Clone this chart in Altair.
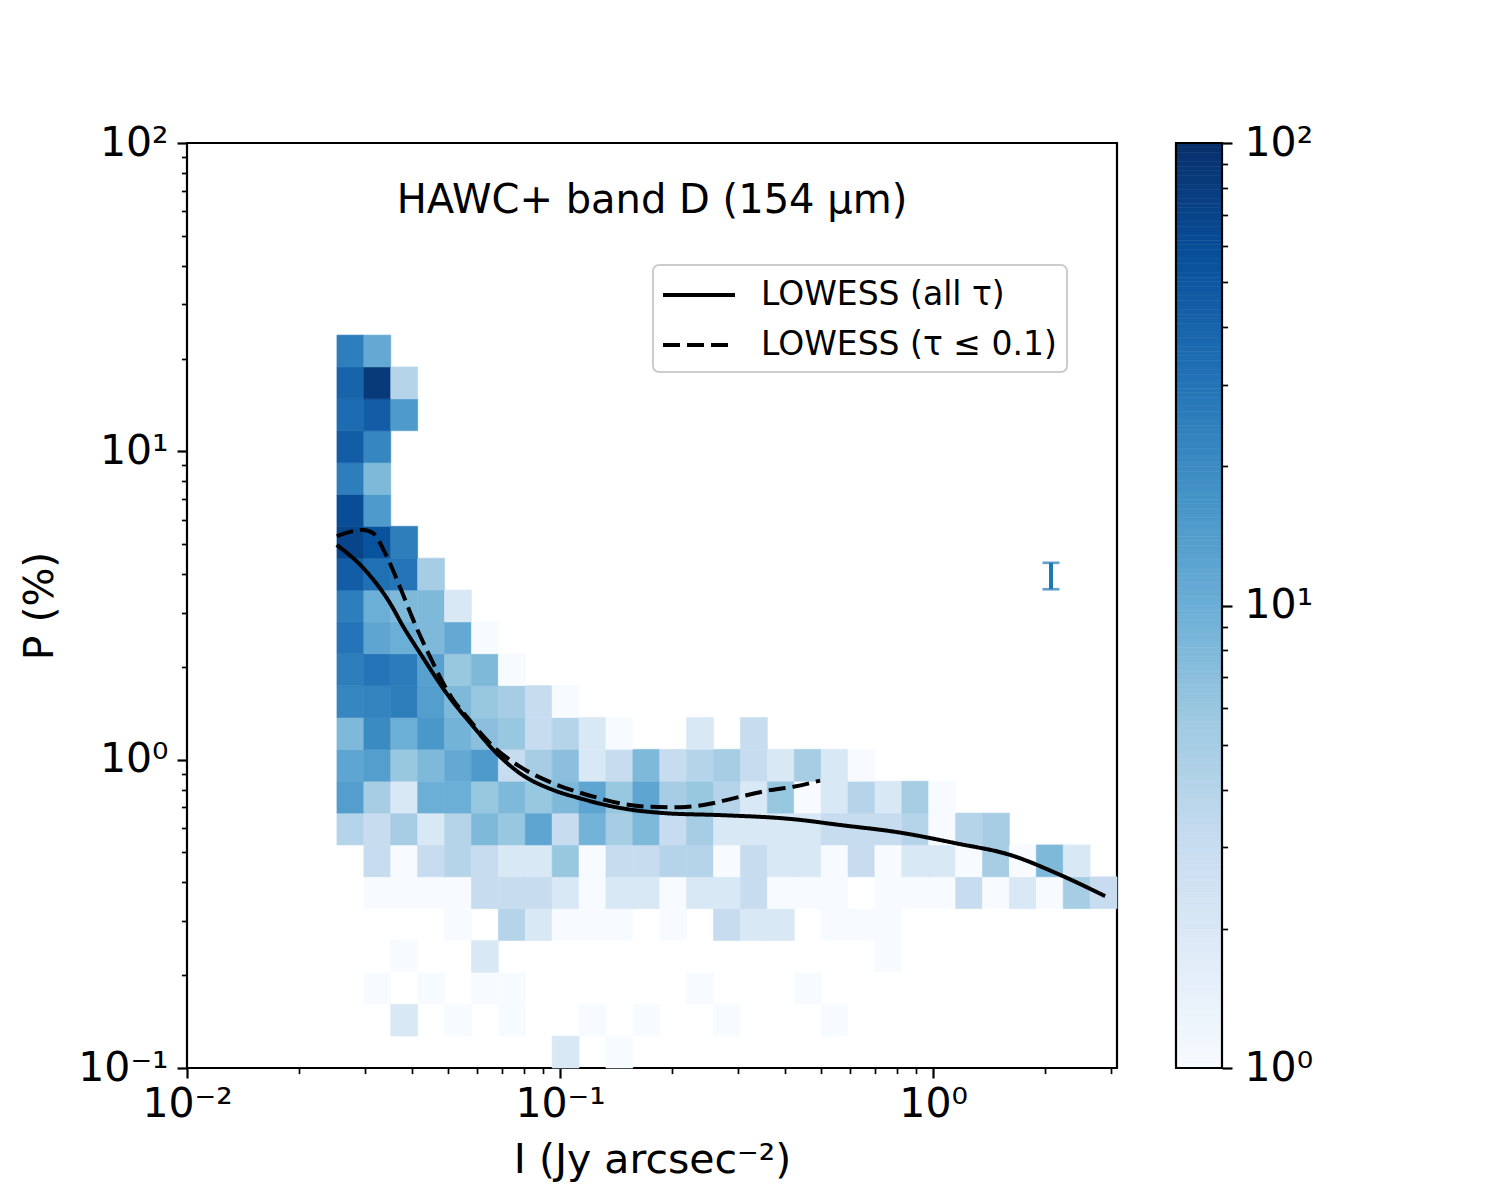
import altair as alt
import numpy as np
import pandas as pd

# ---------------- data ----------------
# 2D histogram bin edges (log spaced), I in Jy/arcsec^2, P in %
x_edges = [0.02523, 0.02979, 0.03517, 0.04152, 0.04902, 0.05788, 0.06833, 0.08067,
           0.09524, 0.11244, 0.13274, 0.15672, 0.18502, 0.21843, 0.25788, 0.30445,
           0.35944, 0.42436, 0.50100, 0.59148, 0.69823, 0.82431, 0.97320, 1.1489,
           1.3565, 1.6014, 1.8906, 2.2321, 2.6352, 3.1111]
y_edges = [0.1, 0.1269, 0.1609, 0.2042, 0.2591, 0.3287, 0.4170, 0.5290, 0.6711,
           0.8514, 1.0801, 1.3703, 1.7384, 2.2055, 2.7981, 3.5498, 4.5035, 5.7135,
           7.2485, 9.1960, 11.667, 14.801, 18.778, 23.823]

# counts per cell, rows from lowest P bin upward, 29 I bins each
counts = [
    [0, 0, 0, 0, 0, 0, 0, 0, 2, 0, 1, 0, 0, 0, 0, 0, 0, 0, 0, 0, 0, 0, 0, 0, 0, 0, 0, 0, 0],
    [0, 0, 2, 0, 1, 0, 1, 0, 0, 1, 0, 1, 0, 0, 1, 0, 0, 0, 1, 0, 0, 0, 0, 0, 0, 0, 0, 0, 0],
    [0, 1, 0, 1, 0, 1, 1, 0, 0, 0, 0, 0, 0, 1, 0, 0, 0, 1, 0, 0, 0, 0, 0, 0, 0, 0, 0, 0, 0],
    [0, 0, 1, 0, 0, 2, 0, 0, 0, 0, 0, 0, 0, 0, 0, 0, 0, 0, 0, 0, 1, 0, 0, 0, 0, 0, 0, 0, 0],
    [0, 0, 0, 0, 1, 0, 4, 2, 1, 1, 1, 0, 1, 0, 3, 2, 2, 0, 1, 1, 1, 0, 0, 0, 0, 0, 0, 0, 0],
    [0, 1, 1, 1, 1, 3, 3, 3, 2, 1, 2, 2, 1, 2, 2, 3, 1, 1, 1, 0, 1, 1, 1, 3, 1, 2, 1, 5, 3],
    [0, 3, 1, 3, 4, 3, 2, 2, 6, 1, 3, 3, 4, 4, 1, 3, 2, 2, 1, 3, 1, 2, 2, 1, 5, 1, 8, 2, 0],
    [4, 3, 5, 2, 4, 8, 6, 12, 3, 9, 5, 8, 3, 5, 2, 2, 2, 2, 3, 3, 3, 4, 1, 4, 5, 0, 0, 0, 0],
    [14, 5, 2, 10, 10, 6, 8, 6, 8, 12, 6, 12, 5, 6, 4, 2, 6, 1, 2, 4, 2, 5, 1, 0, 0, 0, 0, 0, 0],
    [12, 14, 6, 8, 11, 15, 3, 5, 7, 2, 3, 8, 3, 4, 5, 3, 2, 5, 2, 1, 0, 0, 0, 0, 0, 0, 0, 0, 0],
    [8, 20, 10, 16, 9, 7, 6, 3, 4, 2, 1, 0, 0, 2, 0, 3, 0, 0, 0, 0, 0, 0, 0, 0, 0, 0, 0, 0, 0],
    [22, 23, 25, 14, 8, 6, 5, 3, 1, 0, 0, 0, 0, 0, 0, 0, 0, 0, 0, 0, 0, 0, 0, 0, 0, 0, 0, 0, 0],
    [25, 30, 26, 13, 6, 8, 1, 0, 0, 0, 0, 0, 0, 0, 0, 0, 0, 0, 0, 0, 0, 0, 0, 0, 0, 0, 0, 0, 0],
    [30, 12, 10, 8, 11, 1, 0, 0, 0, 0, 0, 0, 0, 0, 0, 0, 0, 0, 0, 0, 0, 0, 0, 0, 0, 0, 0, 0, 0],
    [25, 10, 8, 8, 2, 0, 0, 0, 0, 0, 0, 0, 0, 0, 0, 0, 0, 0, 0, 0, 0, 0, 0, 0, 0, 0, 0, 0, 0],
    [45, 32, 30, 5, 0, 0, 0, 0, 0, 0, 0, 0, 0, 0, 0, 0, 0, 0, 0, 0, 0, 0, 0, 0, 0, 0, 0, 0, 0],
    [70, 55, 25, 0, 0, 0, 0, 0, 0, 0, 0, 0, 0, 0, 0, 0, 0, 0, 0, 0, 0, 0, 0, 0, 0, 0, 0, 0, 0],
    [60, 15, 0, 0, 0, 0, 0, 0, 0, 0, 0, 0, 0, 0, 0, 0, 0, 0, 0, 0, 0, 0, 0, 0, 0, 0, 0, 0, 0],
    [25, 8, 0, 0, 0, 0, 0, 0, 0, 0, 0, 0, 0, 0, 0, 0, 0, 0, 0, 0, 0, 0, 0, 0, 0, 0, 0, 0, 0],
    [45, 22, 0, 0, 0, 0, 0, 0, 0, 0, 0, 0, 0, 0, 0, 0, 0, 0, 0, 0, 0, 0, 0, 0, 0, 0, 0, 0, 0],
    [35, 45, 15, 0, 0, 0, 0, 0, 0, 0, 0, 0, 0, 0, 0, 0, 0, 0, 0, 0, 0, 0, 0, 0, 0, 0, 0, 0, 0],
    [40, 85, 4, 0, 0, 0, 0, 0, 0, 0, 0, 0, 0, 0, 0, 0, 0, 0, 0, 0, 0, 0, 0, 0, 0, 0, 0, 0, 0],
    [25, 11, 0, 0, 0, 0, 0, 0, 0, 0, 0, 0, 0, 0, 0, 0, 0, 0, 0, 0, 0, 0, 0, 0, 0, 0, 0, 0, 0],
]

# LOWESS curves
series_names = ["LOWESS (all \u03c4)", "LOWESS (\u03c4 \u2264 0.1)"]
solid_I = [0.0252, 0.0297, 0.0350, 0.0380, 0.0421, 0.0507, 0.0586, 0.0663, 0.0781, 0.0959,
           0.1132, 0.1390, 0.1932, 0.2685, 0.4222, 0.563, 0.816, 1.157, 1.608, 2.190, 2.891]
solid_P = [4.97, 4.18, 3.22, 2.70, 2.22, 1.585, 1.279, 1.075, 0.903, 0.797,
           0.749, 0.704, 0.670, 0.661, 0.641, 0.614, 0.580, 0.535, 0.491, 0.423, 0.361]
dash_I = [0.0252, 0.0297, 0.0316, 0.0340, 0.0372, 0.0404, 0.0448, 0.0513, 0.0562, 0.0649,
          0.0781, 0.0959, 0.1229, 0.1448, 0.1708, 0.2098, 0.2422, 0.2914, 0.3583, 0.4222, 0.4977]
dash_P = [5.31, 5.56, 5.42, 4.67, 3.64, 2.84, 2.158, 1.585, 1.379, 1.130,
          0.949, 0.838, 0.759, 0.722, 0.704, 0.701, 0.713, 0.749, 0.793, 0.817, 0.855]

# representative error bar
err_I = [2.07]
err_P = [3.96]
err_dP = [0.39]

title_text = "HAWC+ band D (154 \u03bcm)"
x_title = "I (Jy arcsec\u207b\u00b2)"
y_title = "P (%)"

# matplotlib "Blues" anchors on a log norm 1..100
blues_colors = ["#f7fbff", "#deebf7", "#c6dbef", "#9ecae1", "#6baed6",
                "#4292c6", "#2171b5", "#08519c", "#08306b"]
blues_domain = [1.0, 1.7783, 3.1623, 5.6234, 10.0, 17.783, 31.623, 56.234, 100.0]

x_major_ticks = [0.01, 0.1, 1]
x_minor_ticks = [0.02, 0.03, 0.04, 0.05, 0.06, 0.07, 0.08, 0.09,
                 0.2, 0.3, 0.4, 0.5, 0.6, 0.7, 0.8, 0.9, 2, 3]
y_major_ticks = [0.1, 1, 10, 100]
y_minor_ticks = [0.2, 0.3, 0.4, 0.5, 0.6, 0.7, 0.8, 0.9, 2, 3, 4, 5, 6, 7, 8, 9,
                 20, 30, 40, 50, 60, 70, 80, 90]
cb_major_ticks = [1, 10, 100]
cb_minor_ticks = [2, 3, 4, 5, 6, 7, 8, 9, 20, 30, 40, 50, 60, 70, 80, 90]

# ---------------- tables ----------------
heat_rows = []
for iy, row in enumerate(counts):
    for ix, c in enumerate(row):
        if c > 0:
            heat_rows.append(dict(x0=x_edges[ix], x1=x_edges[ix + 1],
                                  y0=y_edges[iy], y1=y_edges[iy + 1], count=c))
heat_df = pd.DataFrame(heat_rows)

line_df = pd.concat([
    pd.DataFrame({"I": solid_I, "P": solid_P, "series": series_names[0]}),
    pd.DataFrame({"I": dash_I, "P": dash_P, "series": series_names[1]}),
], ignore_index=True)

err_df = pd.DataFrame({"I": err_I, "P": err_P, "dP": err_dP})
err_df["lo"] = err_df["P"] - err_df["dP"]
err_df["hi"] = err_df["P"] + err_df["dP"]
cap_df = pd.DataFrame({"I": err_I * 2, "cap": [err_df["lo"][0], err_df["hi"][0]]})

cb_levels = np.logspace(0, 2, 201)  # colour ramp of the colour bar
cb_df = pd.DataFrame({"lo": cb_levels[:-1], "hi": cb_levels[1:]})
cb_df["mid"] = np.sqrt(cb_df["lo"] * cb_df["hi"])
cb_frame = pd.DataFrame({"lo": [1.0], "hi": [100.0]})

# ---------------- geometry ----------------
W, H = 930, 925
CB_X0, CB_X1 = 989, 1035

FONT = "DejaVu Sans"
SUP = ("round(log(datum.value)/LN10) == -2 ? '10\u207b\u00b2' : "
       "round(log(datum.value)/LN10) == -1 ? '10\u207b\u00b9' : "
       "round(log(datum.value)/LN10) == 0 ? '10\u2070' : "
       "round(log(datum.value)/LN10) == 1 ? '10\u00b9' : '10\u00b2'")

xs = alt.Scale(type="log", domain=[0.01, 3.1111], nice=False)


def ys():
    return alt.Scale(type="log", domain=[0.1, 100], nice=False)


def cbs():
    return alt.Scale(type="log", domain=[1, 100], nice=False)


def cs():
    return alt.Scale(type="log", domain=blues_domain, range=blues_colors, interpolate="rgb")


x_major = alt.Axis(orient="bottom", values=x_major_ticks, labelExpr=SUP, tickSize=10,
                   tickWidth=2.2, labelPadding=6, labelFlush=False, labelOverlap=False,
                   title=x_title, titleY=104, titleBaseline="alphabetic")
x_minor = alt.Axis(orient="bottom", values=x_minor_ticks, labels=False, tickSize=5.6,
                   tickWidth=1.7, title=None)
y_major = alt.Axis(orient="left", values=y_major_ticks, labelExpr=SUP, tickSize=10,
                   tickWidth=2.2, labelPadding=9, labelFlush=False, labelOverlap=False,
                   title=y_title, titleX=-135, titleY=H / 2, titleBaseline="alphabetic",
                   titleAngle=270)
y_minor = alt.Axis(orient="left", values=y_minor_ticks, labels=False, tickSize=5.6,
                   tickWidth=1.7, title=None)
cb_major = alt.Axis(orient="right", offset=CB_X1 - W, values=cb_major_ticks, labelExpr=SUP,
                    tickSize=10, tickWidth=2.2, labelPadding=12, labelFlush=False,
                    labelOverlap=False, title=None)
cb_minor = alt.Axis(orient="right", offset=CB_X1 - W, values=cb_minor_ticks, labels=False,
                    tickSize=5.6, tickWidth=1.7, title=None)

# ---------------- layers ----------------
heat = alt.Chart(heat_df).mark_rect(strokeWidth=0.6).encode(
    x=alt.X("x0:Q", scale=xs, axis=x_major),
    x2="x1:Q",
    y=alt.Y("y0:Q", scale=ys(), axis=y_major),
    y2="y1:Q",
    color=alt.Color("count:Q", scale=cs(), legend=None),
    stroke=alt.Stroke("count:Q", scale=cs(), legend=None),
)

lines = alt.Chart(line_df).mark_line(color="black", strokeWidth=4, interpolate="monotone").encode(
    x=alt.X("I:Q", scale=xs, axis=x_minor),
    y=alt.Y("P:Q", scale=ys(), axis=y_minor),
    strokeDash=alt.StrokeDash(
        "series:N",
        scale=alt.Scale(domain=series_names, range=[[1, 0], [17, 7]]),
        legend=alt.Legend(
            title=None, orient="none", legendX=466, legendY=122,
            symbolType="M-1.111,0H2.889", symbolSize=1296, symbolStrokeWidth=4,
            symbolStrokeColor="black", symbolFillColor="transparent",
            labelFont=FONT, labelFontSize=33, labelColor="black", labelLimit=600,
            labelOffset=58, rowPadding=13, padding=10, cornerRadius=6,
            strokeColor="#cccccc", fillColor="rgba(255,255,255,0.8)",
        ),
    ),
)

err_bar = alt.Chart(err_df).mark_rule(color="#1f77b4", strokeWidth=4).encode(
    x=alt.X("I:Q", scale=xs, axis=None),
    y=alt.Y("lo:Q", scale=ys(), axis=None),
    y2="hi:Q",
)
err_caps = alt.Chart(cap_df).mark_tick(color="#1f77b4", orient="horizontal", size=17,
                                       thickness=2.6).encode(
    x=alt.X("I:Q", scale=xs, axis=None),
    y=alt.Y("cap:Q", scale=ys(), axis=None),
)

title = alt.Chart(pd.DataFrame({"t": [title_text]})).mark_text(
    font=FONT, fontSize=40, align="center", baseline="alphabetic", color="black"
).encode(text="t:N", x=alt.value(W / 2), y=alt.value(70))

cbar = alt.Chart(cb_df).mark_rect(strokeWidth=0.6).encode(
    x=alt.value(CB_X0), x2=alt.value(CB_X1),
    y=alt.Y("lo:Q", scale=cbs(), axis=cb_major),
    y2="hi:Q",
    color=alt.Color("mid:Q", scale=cs(), legend=None),
    stroke=alt.Stroke("mid:Q", scale=cs(), legend=None),
)
cbar_frame = alt.Chart(cb_frame).mark_rect(fill="transparent", stroke="black",
                                           strokeWidth=2.2).encode(
    x=alt.value(CB_X0), x2=alt.value(CB_X1),
    y=alt.Y("lo:Q", scale=cbs(), axis=cb_minor),
    y2="hi:Q",
)

chart = alt.layer(heat, lines, err_bar, err_caps, title, cbar, cbar_frame).resolve_scale(
    y="independent"
).resolve_axis(
    x="independent", y="independent"
).properties(
    width=W, height=H,
    autosize=alt.AutoSizeParams(type="none"),
    padding={"left": 179, "top": 135, "right": 360, "bottom": 120},
).configure(
    font=FONT
).configure_view(
    stroke="black", strokeWidth=2.2
).configure_axis(
    domain=False, grid=False, labelFont=FONT, titleFont=FONT, labelFontSize=41,
    titleFontSize=41, labelColor="black", titleColor="black", tickColor="black",
    titleFontWeight="normal"
).configure_legend(
    strokeWidth=2
)

chart.save("out.html", embed_options={"renderer": "svg", "actions": False})
